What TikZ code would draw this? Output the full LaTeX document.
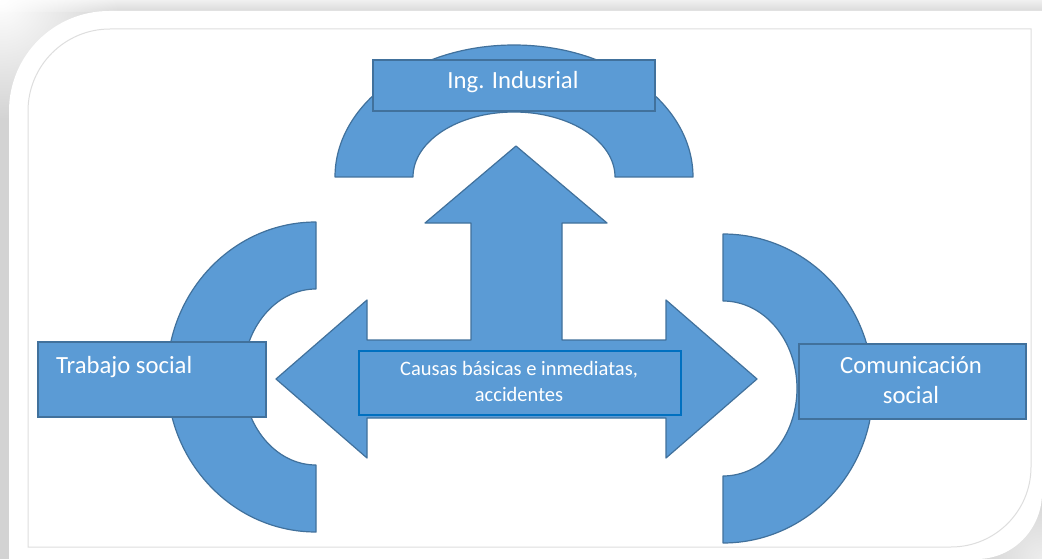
\documentclass[tikz,border=0pt]{standalone}
\usepackage{fontspec}
\usetikzlibrary{fadings}
\setmainfont{Carlito}
\definecolor{fillblue}{HTML}{5B9BD5}
\definecolor{lineblue}{HTML}{41719C}
\definecolor{boxline}{HTML}{0070C0}
\definecolor{framegray}{HTML}{D3D3D3}
\definecolor{innergray}{HTML}{DEDEDE}
\tikzfading[name=cornerfade, inner color=transparent!0, outer color=transparent!100]
\begin{document}
\begin{tikzpicture}[x=1pt,y=-1pt,
  blockshape/.style={fill=fillblue,draw=lineblue,line width=1.2pt,line join=round},
  box/.style={rectangle,fill=fillblue,draw=lineblue,line width=1.8pt,inner sep=0pt,anchor=north west},
  lbl/.style={text=white,font=\fontsize{24.7}{30}\selectfont,inner sep=0pt},
  smalllbl/.style={text=white,font=\fontsize{20.5}{26}\selectfont,inner sep=0pt}]
\useasboundingbox (0,0) rectangle (1042,559);
% frame / shadow
\fill[framegray] (0,0) rectangle (1042,559);
\shade[top color=gray!12, bottom color=gray!30] (0,0) rectangle (1042,12);
\fill[white,path fading=cornerfade] (0,0) circle (120);
\fill[white,path fading=cornerfade,opacity=0.6] (1042,559) circle (70);
\fill[white] (9,559) -- (9,111) .. controls (9,55.8) and (53.8,11) .. (109,11) -- (1042,11) -- (1042,493) .. controls (1042,529) and (1013,559) .. (977,559) -- cycle;
\draw[innergray,line width=1pt] (28,547) -- (28,111) .. controls (28,65.7) and (64.7,29) .. (110,29) -- (1031,29) -- (1031,467) .. controls (1031,511.2) and (995.2,547) .. (951,547) -- cycle;
% block arcs
\draw[blockshape] (335,177) arc[start angle=180,end angle=360,x radius=179,y radius=132] -- (615,177) arc[start angle=360,end angle=180,x radius=101,y radius=65] -- cycle;
\draw[blockshape] (316,222) arc[start angle=270,end angle=90,x radius=149,y radius=155] -- (316,465) arc[start angle=90,end angle=270,x radius=73,y radius=88] -- cycle;
\draw[blockshape] (723,234) arc[start angle=270,end angle=450,x radius=150,y radius=154.5] -- (723,476) arc[start angle=90,end angle=-90,x radius=74,y radius=87.5] -- cycle;
% three-way arrow
\draw[blockshape] (516,146) -- (607,223) -- (562,223) -- (562,340) -- (666,340) -- (666,300) -- (757,379) -- (666,458) -- (666,418) -- (367,418) -- (367,458) -- (276,379) -- (367,300) -- (367,340) -- (471,340) -- (471,223) -- (425,223) -- cycle;
% boxes
\node[box,minimum width=282pt,minimum height=51pt] (ing) at (372,59) {};
\node[lbl,anchor=base] (ingt) at (513,89) {Ing. Indusrial};
\node[box,minimum width=228pt,minimum height=75pt] (ts) at (37,341) {};
\node[lbl,anchor=base west] (tst) at (56,373) {Trabajo social};
\node[box,minimum width=227pt,minimum height=75pt] (cs) at (798,343) {};
\node[lbl,anchor=base,align=center] (cst) at (911,403) {Comunicación\\social};
\node[box,draw=boxline,line width=2pt,minimum width=322pt,minimum height=64pt] (cb) at (358,350) {};
\node[smalllbl,anchor=base,align=center] (cbt) at (519,401) {Causas básicas e inmediatas,\\accidentes};
\end{tikzpicture}
\end{document}
